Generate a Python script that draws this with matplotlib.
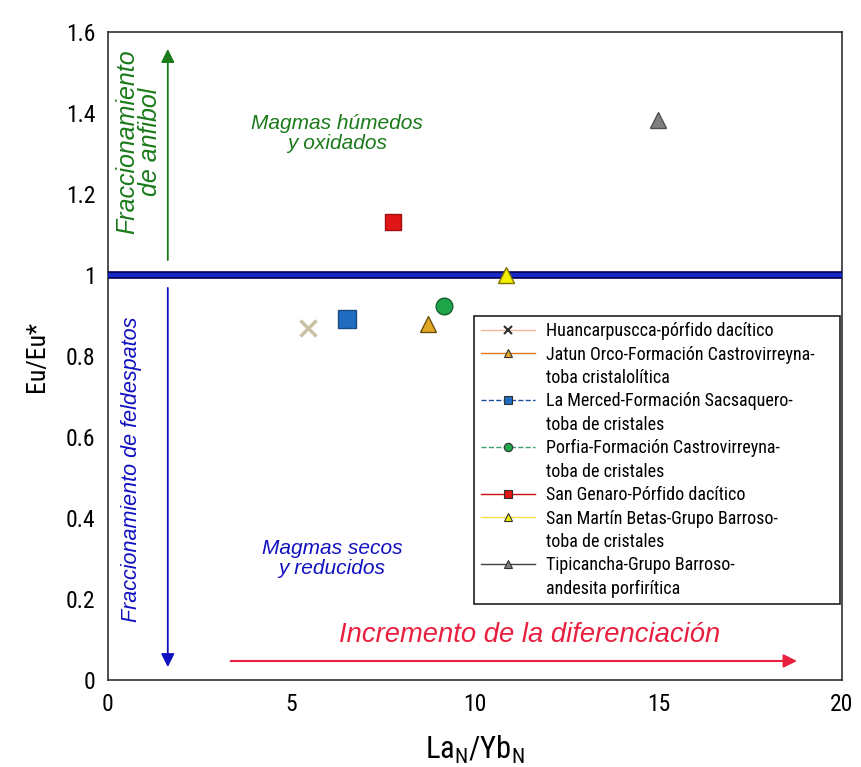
import matplotlib
matplotlib.use("Agg")
import matplotlib.pyplot as plt
from matplotlib.lines import Line2D

plt.rcParams['font.family'] = ['Roboto Condensed', 'DejaVu Sans']
plt.rcParams['mathtext.fontset'] = 'custom'
plt.rcParams['mathtext.rm'] = 'Roboto Condensed'
plt.rcParams['mathtext.it'] = 'Roboto Condensed:italic'
ANNOT_FONT = ['Liberation Sans', 'DejaVu Sans']

# ---- data ----
series = ['Huancarpuscca-pórfido dacítico',
          'Jatun Orco-Formación Castrovirreyna-\ntoba cristalolítica',
          'La Merced-Formación Sacsaquero-\ntoba de cristales',
          'Porfia-Formación Castrovirreyna-\ntoba de cristales',
          'San Genaro-Pórfido dacítico',
          'San Martín Betas-Grupo Barroso-\ntoba de cristales',
          'Tipicancha-Grupo Barroso-\nandesita porfirítica']
la_yb = [5.45, 8.72, 6.51, 9.16, 7.77, 10.84, 15.0]
eu_eu = [0.869, 0.879, 0.891, 0.923, 1.131, 1.0, 1.383]

xticks = [0, 5, 10, 15, 20]
yticks = [0, 0.2, 0.4, 0.6, 0.8, 1, 1.2, 1.4, 1.6]
ytick_labels = ['0', '0.2', '0.4', '0.6', '0.8', '1', '1.2', '1.4', '1.6']

# ---- styles ----
markers = ['x', '^', 's', 'o', 's', '^', '^']
face = ['#c9c1a6', '#e3a823', '#1f6cc0', '#1fa64a', '#e01515', '#f2f000', '#808080']
edge = ['#a09880', '#6b5010', '#1a4a80', '#156030', '#a01010', '#807000', '#505050']
sizes = [11, 11, 13, 12, 12, 11, 11]
line_col = ['#f0b8a0', '#e07820', '#2050a0', '#40a070', '#d01010', '#f0e040', '#404040']
line_sty = ['-', '-', '--', '--', '-', '-', '-']

fig = plt.figure(figsize=(8.61, 7.67), dpi=100)
ax = fig.add_axes([0.1254, 0.1134, 0.8525, 0.8449])

for i in range(len(series)):
    mew = 2.5 if markers[i] == 'x' else 1.0
    mec = face[i] if markers[i] == 'x' else edge[i]
    ax.plot(la_yb[i], eu_eu[i], linestyle='none', marker=markers[i], markersize=sizes[i],
            markerfacecolor=face[i], markeredgecolor=mec, markeredgewidth=mew, zorder=5)

# reference line at Eu/Eu* = 1
ax.axhline(1.0, color='#000050', lw=5.5, zorder=3)
ax.axhline(1.0, color='#1428c8', lw=3.0, zorder=3)

# arrows
ax.annotate('', xy=(1.63, 1.565), xytext=(1.63, 1.03),
            arrowprops=dict(arrowstyle='-|>', color='#1a7a1a', lw=1.3, mutation_scale=20))
ax.annotate('', xy=(1.63, 0.025), xytext=(1.63, 0.975),
            arrowprops=dict(arrowstyle='-|>', color='#1010c0', lw=1.3, mutation_scale=20))
ax.annotate('', xy=(18.85, 0.047), xytext=(3.27, 0.047),
            arrowprops=dict(arrowstyle='-|>', color='#e82040', lw=1.5, mutation_scale=20))

# texts
ax.text(0.84, 1.328, 'Fraccionamiento\nde anfibol', rotation=90, color='#1a7a1a',
        fontsize=18, style='italic', ha='center', va='center', linespacing=0.95,
        family=ANNOT_FONT)
ax.text(0.65, 0.52, 'Fraccionamiento de feldespatos', rotation=90, color='#1010c0',
        fontsize=15.5, style='italic', ha='center', va='center', family=ANNOT_FONT)
ax.text(6.25, 1.35, 'Magmas húmedos\ny oxidados', color='#1a7a1a',
        fontsize=15, style='italic', ha='center', va='center', linespacing=1.05,
        family=ANNOT_FONT)
ax.text(6.1, 0.30, 'Magmas secos\ny reducidos', color='#1010c0',
        fontsize=15, style='italic', ha='center', va='center', linespacing=1.05,
        family=ANNOT_FONT)
ax.text(11.5, 0.11, 'Incremento de la diferenciación', color='#e82040',
        fontsize=19.7, style='italic', ha='center', va='center', family=ANNOT_FONT)

ax.set_xlim(0, 20)
ax.set_ylim(0, 1.6)
ax.set_xticks(xticks)
ax.set_xticklabels([str(t) for t in xticks])
ax.set_yticks(yticks)
ax.set_yticklabels(ytick_labels)
ax.tick_params(labelsize=17, length=0, pad=9)
for s in ax.spines.values():
    s.set_color('#303030')
    s.set_linewidth(1.2)

ax.set_ylabel('Eu/Eu*', fontsize=18.5, labelpad=12)
ax.set_xlabel(r'$\mathrm{La_N/Yb_N}$', fontsize=22, labelpad=13)

# legend: one entry per text line, handle on the first line of each series
handles, labels = [], []
for i in range(len(series)):
    parts = series[i].split('\n')
    mew = 1.5 if markers[i] == 'x' else 0.8
    mfc = '#404040' if markers[i] == 'x' else face[i]
    h = Line2D([], [], color=line_col[i], linestyle=line_sty[i], lw=1.0, marker=markers[i],
               markersize=6, markerfacecolor=mfc, markeredgecolor='#303030', markeredgewidth=mew)
    handles.append(h)
    labels.append(parts[0])
    for p in parts[1:]:
        handles.append(Line2D([], [], linestyle='none'))
        labels.append(p)
leg = ax.legend(handles, labels, loc='upper left', bbox_to_anchor=(0.499, 0.116, 0.498, 0.446),
                mode='expand', fontsize=13, labelspacing=0.3, handlelength=3.0,
                handletextpad=0.6, borderpad=0.35, borderaxespad=0, fancybox=False,
                framealpha=1, edgecolor='#202020')
leg.get_frame().set_linewidth(1.2)
leg.set_zorder(6)

fig.savefig('out.png', dpi=100)
